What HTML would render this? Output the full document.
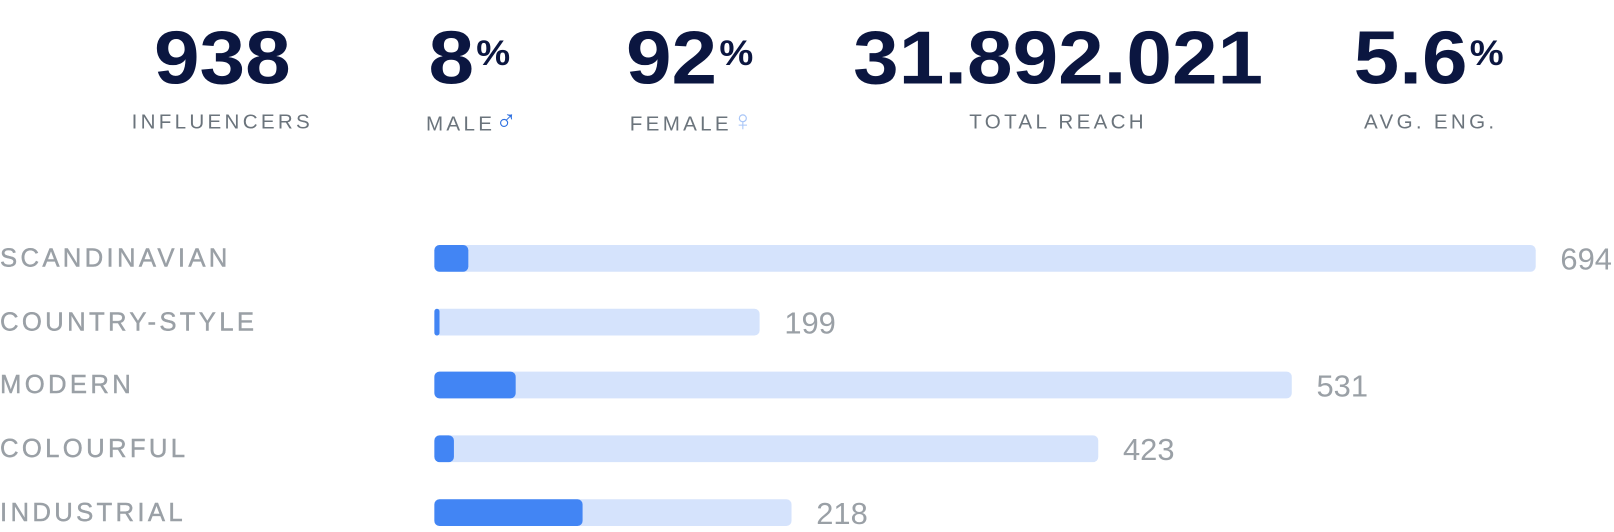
<!DOCTYPE html>
<html><head><meta charset="utf-8"><style>
body{margin:0;width:1614px;height:532px;background:#fff;position:relative;overflow:hidden;font-family:"Liberation Sans",sans-serif}
#w{position:absolute;left:0;top:0;width:1568px;height:517px;transform:scale(1.0293);transform-origin:0 0}
.n{position:absolute;top:19px;font-weight:bold;font-size:73px;line-height:75px;color:#0b1640;transform:translateX(-50%) scaleX(1.09);white-space:nowrap}
.n sup{font-size:34px;font-weight:bold;vertical-align:top;position:relative;top:-4px;margin-left:2px}
.l{position:absolute;top:108px;font-size:20px;line-height:22px;letter-spacing:3.2px;color:#6b747c;transform:translateX(-50%);white-space:nowrap}
.l span{font-size:28px;line-height:20px;letter-spacing:0}
.c{position:absolute;left:0;font-size:25px;letter-spacing:3.2px;color:#9aa0a6;line-height:26px;-webkit-text-stroke:0.4px #9aa0a6}
.t{position:absolute;left:422px;height:26px;border-radius:5px;background:#d5e3fc}
.f{position:absolute;left:0;top:0;height:26px;border-radius:5px;background:#4285f4}
.v{position:absolute;font-size:30px;color:#9aa0a6;line-height:26px}
</style></head><body><div id="w">
<div class="n" style="left:216px">938</div>
<div class="l" style="left:216px">INFLUENCERS</div>
<div class="n" style="left:456px">8<sup>%</sup></div>
<div class="l" style="left:458px">MALE<span style="color:#2d6fe0">♂</span></div>
<div class="n" style="left:670px">92<sup>%</sup></div>
<div class="l" style="left:672px">FEMALE<span style="color:#a9c6f7">♀</span></div>
<div class="n" style="left:1028px">31.892.021</div>
<div class="l" style="left:1028px">TOTAL REACH</div>
<div class="n" style="left:1388px">5.6<sup>%</sup></div>
<div class="l" style="left:1390px">AVG. ENG.</div>

<div class="c" style="top:238px">SCANDINAVIAN</div>
<div class="t" style="top:238px;width:1070px"><div class="f" style="width:33px"></div></div>
<div class="v" style="left:1516px;top:240px">694</div>

<div class="c" style="top:300px">COUNTRY-STYLE</div>
<div class="t" style="top:300px;width:316px"><div class="f" style="width:5px;border-radius:3px"></div></div>
<div class="v" style="left:762px;top:302px">199</div>

<div class="c" style="top:361px">MODERN</div>
<div class="t" style="top:361px;width:833px"><div class="f" style="width:79px"></div></div>
<div class="v" style="left:1279px;top:363px">531</div>

<div class="c" style="top:423px">COLOURFUL</div>
<div class="t" style="top:423px;width:645px"><div class="f" style="width:19px"></div></div>
<div class="v" style="left:1091px;top:425px">423</div>

<div class="c" style="top:485px">INDUSTRIAL</div>
<div class="t" style="top:485px;width:347px"><div class="f" style="width:144px"></div></div>
<div class="v" style="left:793px;top:487px">218</div>
</div></body></html>
